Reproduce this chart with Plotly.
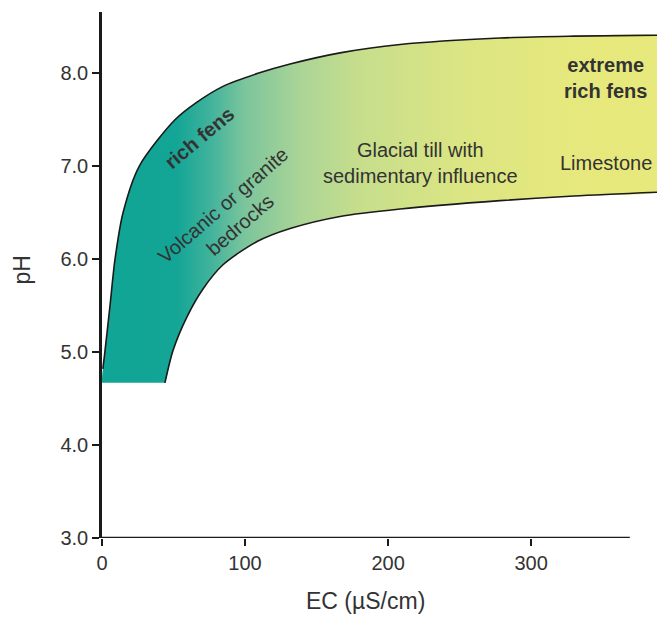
import plotly.graph_objects as go

# Band boundaries (EC in µS/cm, pH)
upper_ec = [0, 0.6, 2.0, 5.6, 9.1, 14.7, 26.0, 51.0, 66.4, 84.6, 109.0, 131.5, 166.4, 208.4, 278.3, 330, 388]
upper_ph = [4.67, 4.82, 5.0, 5.5, 6.0, 6.5, 7.0, 7.5, 7.69, 7.86, 8.0, 8.1, 8.22, 8.31, 8.38, 8.40, 8.41]
lower_ec = [44, 49.7, 59.4, 70.6, 84.6, 108.4, 131.5, 166.4, 208.4, 278.3, 330, 388]
lower_ph = [4.67, 5.02, 5.38, 5.68, 5.94, 6.19, 6.33, 6.46, 6.54, 6.63, 6.68, 6.72]
base_ph = 4.67

x_ticks = [0, 100, 200, 300]
y_ticks = [3.0, 4.0, 5.0, 6.0, 7.0, 8.0]

labels = [
    dict(text="<b>rich fens</b>", x=68, y=7.3, angle=-40),
    dict(text="Volcanic or granite<br>bedrocks", x=90.5, y=6.48, angle=-41),
    dict(text="Glacial till with<br>sedimentary influence", x=223, y=7.04, angle=0),
    dict(text="<b>extreme<br>rich fens</b>", x=352, y=7.95, angle=0),
    dict(text="Limestone", x=352, y=7.04, angle=0),
]

FONT = "Liberation Sans, Arial, sans-serif"
TXT = "#333333"
LINE = "#1a1a1a"
SMOOTH = 0.8

fig = go.Figure()

# closed band outline: upper curve, right edge, lower curve back, flat base
x_end = upper_ec[-1]
poly_x = (upper_ec + [x_end, x_end] + lower_ec[::-1]
          + [lower_ec[0] - 0.5, upper_ec[0] + 0.5, upper_ec[0]])
poly_y = (upper_ph + [upper_ph[-1] - 0.02, lower_ph[-1] + 0.02] + lower_ph[::-1]
          + [base_ph, base_ph, upper_ph[0]])
fig.add_trace(go.Scatter(
    x=poly_x, y=poly_y, mode="lines", fill="toself",
    line=dict(width=0, shape="spline", smoothing=SMOOTH),
    fillgradient=dict(
        type="horizontal", start=0, stop=388,
        colorscale=[
            [0.0, "#10a596"], [0.134, "#13a596"], [0.193, "#3fb29c"],
            [0.258, "#7cc59c"], [0.361, "#acd596"], [0.464, "#c6de8c"],
            [0.644, "#dbe583"], [0.825, "#e5e87d"], [1.0, "#e8e97c"],
        ],
    ),
    hoverinfo="skip", showlegend=False,
))
fig.add_trace(go.Scatter(
    x=upper_ec[1:], y=upper_ph[1:], mode="lines",
    line=dict(color=LINE, width=1.6, shape="spline", smoothing=SMOOTH),
    hoverinfo="skip", showlegend=False,
))
fig.add_trace(go.Scatter(
    x=lower_ec, y=lower_ph, mode="lines",
    line=dict(color=LINE, width=1.6, shape="spline", smoothing=SMOOTH),
    hoverinfo="skip", showlegend=False,
))

for lb in labels:
    fig.add_annotation(x=lb["x"], y=lb["y"], text=lb["text"], textangle=lb["angle"],
                       showarrow=False, font=dict(family=FONT, size=20, color=TXT),
                       align="center")

# x-axis line (ends before the band edge as in the reference)
fig.add_shape(type="line", x0=0, x1=369, y0=3.0, y1=3.0, xref="x", yref="y",
              line=dict(color=LINE, width=2.5), layer="above")

fig.add_annotation(x=184.5, y=-0.12, xref="x", yref="paper", text="EC (µS/cm)",
                   xanchor="center", yanchor="middle",
                   showarrow=False, font=dict(family=FONT, size=23, color=TXT))
fig.add_annotation(x=-0.144, y=5.88, xref="paper", yref="y", text="pH", textangle=-90,
                   xanchor="center", yanchor="middle",
                   showarrow=False, font=dict(family=FONT, size=23, color=TXT))

fig.update_layout(
    width=657, height=622,
    margin=dict(l=102, r=0, t=12, b=84),
    paper_bgcolor="white", plot_bgcolor="white",
    font=dict(family=FONT, color=TXT),
    xaxis=dict(range=[0, 388], tickvals=x_ticks, ticktext=[str(v) for v in x_ticks],
               ticks="outside", ticklen=7, tickwidth=2, tickcolor=LINE,
               showgrid=False, zeroline=False, showline=False,
               tickfont=dict(size=20, color=TXT, family=FONT)),
    yaxis=dict(range=[3.0, 8.66], tickvals=y_ticks, ticktext=[f"{v:.1f}" for v in y_ticks],
               ticks="outside", ticklen=7, tickwidth=2, tickcolor=LINE,
               showgrid=False, zeroline=False, showline=True, linewidth=2.5,
               linecolor=LINE,
               tickfont=dict(size=20, color=TXT, family=FONT)),
)

fig.write_html("out.html", config={"displayModeBar": False},
               post_script="document.body.style.margin='0';document.body.style.overflow='hidden';")
